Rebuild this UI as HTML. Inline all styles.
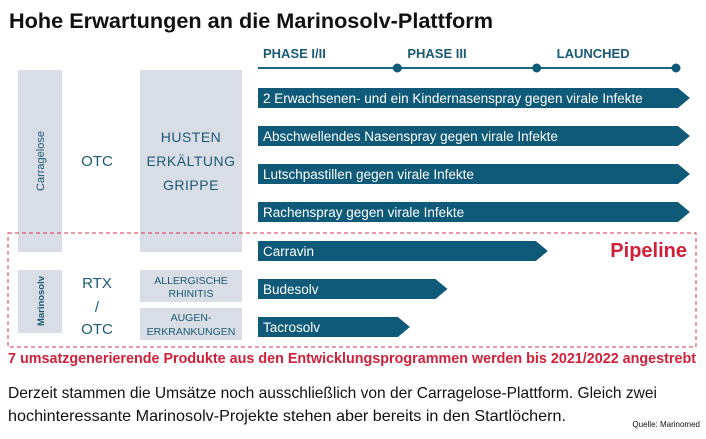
<!DOCTYPE html>
<html><head><meta charset="utf-8"><style>
html,body{margin:0;padding:0;background:#fff;}
svg{display:block;font-family:"Liberation Sans",sans-serif;}
</style></head><body>
<svg id="chart" width="706" height="439" viewBox="0 0 706 439" xmlns="http://www.w3.org/2000/svg">
<text x="9" y="28" font-size="21" font-weight="bold" fill="#111" textLength="484" lengthAdjust="spacingAndGlyphs">Hohe Erwartungen an die Marinosolv-Plattform</text>
<g id="axis"></g>
<g>
<rect x="18" y="70" width="44" height="182" fill="#d9dde5"/>
<text transform="translate(44,161) rotate(-90)" text-anchor="middle" font-size="11" fill="#1a5a75">Carragelose</text>
<text x="97" y="166" text-anchor="middle" font-size="15" fill="#1a5a75">OTC</text>
<rect x="140" y="70" width="102" height="182" fill="#d9dde5"/>
<text text-anchor="middle" font-size="14" fill="#1a5a75" letter-spacing="0.5"><tspan x="191" y="142">HUSTEN</tspan><tspan x="191" y="166">ERKÄLTUNG</tspan><tspan x="191" y="190">GRIPPE</tspan></text>
<rect x="18" y="270" width="44" height="63" fill="#d9dde5"/>
<text transform="translate(44,301) rotate(-90)" text-anchor="middle" font-size="9" font-weight="bold" fill="#1a5a75" textLength="50" lengthAdjust="spacingAndGlyphs">Marinosolv</text>
<text text-anchor="middle" font-size="15" fill="#1a5a75"><tspan x="97" y="288">RTX</tspan><tspan x="97" y="312">/</tspan><tspan x="97" y="334">OTC</tspan></text>
<rect x="140" y="270" width="102" height="32" fill="#d9dde5"/>
<text text-anchor="middle" font-size="10.5" fill="#1a5a75"><tspan x="191" y="284">ALLERGISCHE</tspan><tspan x="191" y="297">RHINITIS</tspan></text>
<rect x="140" y="308" width="102" height="32" fill="#d9dde5"/>
<text text-anchor="middle" font-size="10.5" fill="#1a5a75"><tspan x="191" y="321">AUGEN-</tspan><tspan x="191" y="335">ERKRANKUNGEN</tspan></text>
</g>
<rect x="8" y="233" width="688" height="114" fill="none" stroke="#d8344e" stroke-width="1" stroke-dasharray="4,3"/>
<text x="687" y="257" text-anchor="end" font-size="20" font-weight="bold" fill="#d0203a">Pipeline</text>
<g id="bars"></g>
<text x="8" y="363" font-size="15" font-weight="bold" fill="#d0203a" textLength="688" lengthAdjust="spacingAndGlyphs">7 umsatzgenerierende Produkte aus den Entwicklungsprogrammen werden bis 2021/2022 angestrebt</text>
<text x="8" y="398" font-size="16" fill="#111" textLength="649" lengthAdjust="spacingAndGlyphs">Derzeit stammen die Umsätze noch ausschließlich von der Carragelose-Plattform. Gleich zwei</text>
<text x="8" y="421" font-size="16" fill="#111" textLength="558" lengthAdjust="spacingAndGlyphs">hochinteressante Marinosolv-Projekte stehen aber bereits in den Startlöchern.</text>
<text x="700" y="427" text-anchor="end" font-size="8" fill="#111">Quelle: Marinomed</text>
</svg>
<script>
const phaseLabels = ["PHASE I/II", "PHASE III", "LAUNCHED"];
const products = ["2 Erwachsenen- und ein Kindernasenspray gegen virale Infekte","Abschwellendes Nasenspray gegen virale Infekte","Lutschpastillen gegen virale Infekte","Rachenspray gegen virale Infekte","Carravin","Budesolv","Tacrosolv"];
const progress = [3.1, 3.1, 3.1, 3.1, 2.08, 1.36, 1.09];
const rowY = [88, 126, 164, 202, 241, 279, 317];

const NS = "http://www.w3.org/2000/svg";
const x0 = 258, x3 = 676;
function xScale(v){ return x0 + (x3 - x0) * v / 3; }
const axis = document.getElementById('axis');
const line = document.createElementNS(NS, 'line');


line.setAttribute('x1', x0); line.setAttribute('x2', x3);
line.setAttribute('y1', 68); line.setAttribute('y2', 68);
line.setAttribute('stroke', '#1a6580'); line.setAttribute('stroke-width', 2);
axis.appendChild(line);
phaseLabels.forEach((p, i) => {
  const t = document.createElementNS(NS, 'text');
  
  
  t.setAttribute('x', xScale(i) + 5 + (i===1?5:(i===2?15:0)));
  t.setAttribute('y', 58);
  t.setAttribute('font-size', 13); t.setAttribute('font-weight', 'bold');
  t.setAttribute('fill', '#1a5a75');
  t.textContent = p;
  axis.appendChild(t);
  const c = document.createElementNS(NS, 'circle');
  
  
  c.setAttribute('cx', xScale(i + 1)); c.setAttribute('cy', 68); c.setAttribute('r', 4.5);
  c.setAttribute('fill', '#0f5a78');
  axis.appendChild(c);
});
const bars = document.getElementById('bars');
products.forEach((name, i) => {
  const y = rowY[i], h = 20, tip = 12, xe = xScale(progress[i]);
  const p = document.createElementNS(NS, 'polygon');
  
  
  p.setAttribute('points', `${x0},${y} ${xe-tip},${y} ${xe},${y+h/2} ${xe-tip},${y+h} ${x0},${y+h}`);
  p.setAttribute('fill', '#0f5a78');
  bars.appendChild(p);
  const t = document.createElementNS(NS, 'text');
  
  
  t.setAttribute('x', x0 + 5); t.setAttribute('y', y + 15);
  t.setAttribute('font-size', 13.5); t.setAttribute('fill', '#fff');
  t.textContent = name;
  bars.appendChild(t);
});
</script>
</body></html>
